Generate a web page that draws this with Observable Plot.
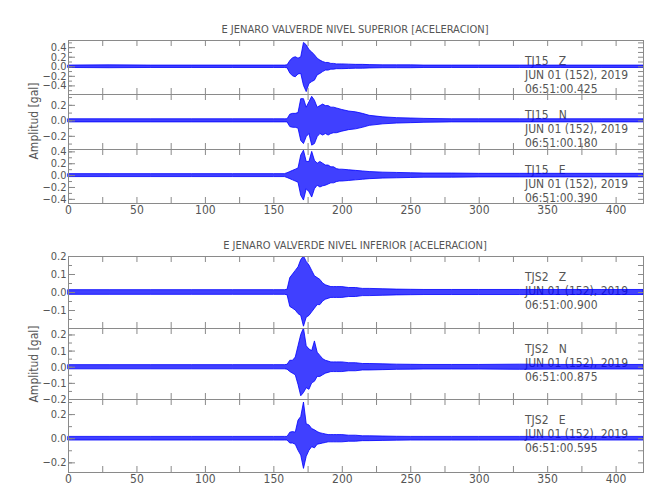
<!DOCTYPE html>
<html><head><meta charset="utf-8">
<script src="https://cdn.jsdelivr.net/npm/d3@7"></script>
<script src="https://cdn.jsdelivr.net/npm/@observablehq/plot@0.6"></script>
<style>
body{margin:0;background:#fff;}
#chart{position:relative;width:650px;height:500px;font-family:"DejaVu Sans Condensed","Liberation Sans Narrow","Liberation Sans",sans-serif;color:#555;}
.abs{position:absolute;white-space:nowrap;}
.title{font-size:11px;transform:translate(-50%,-50%);}
.ann{font-size:12px;line-height:14px;}
.ylab{font-size:12px;transform:translate(-50%,-50%) rotate(-90deg);}
svg{position:absolute;left:0;}
</style></head><body><div id="chart"></div>
<script>
// ---- data ----
const time = [0,30,60,90,120,150,158,160,162,164,166,168,170,172,174,176,178,180,182,184,186,188,190,192,194,196,198,200,205,210,215,220,230,240,250,260,280,300,330,360,390,420];

const supZUp = [0.025,0.03,0.025,0.025,0.025,0.025,0.025, 0.03,0.12,0.18,0.2,0.17,0.2,0.5,0.45,0.35,0.3,0.24,0.17,0.13,0.1,0.08,0.08,0.06,0.06,0.05,0.05,0.05, 0.045,0.04,0.04,0.035,0.03,0.03,0.03,0.025,0.025,0.025,0.025,0.025,0.025,0.025];
const supZLo = [-0.025,-0.03,-0.025,-0.025,-0.025,-0.025,-0.025, -0.03,-0.14,-0.2,-0.22,-0.16,-0.15,-0.4,-0.53,-0.36,-0.32,-0.29,-0.18,-0.15,-0.11,-0.08,-0.08,-0.06,-0.06,-0.05,-0.05,-0.05, -0.045,-0.04,-0.04,-0.035,-0.03,-0.03,-0.03,-0.025,-0.025,-0.025,-0.025,-0.025,-0.025,-0.025];

const supNUp = [0.02,0.02,0.02,0.02,0.02,0.02,0.02, 0.02,0.08,0.09,0.09,0.1,0.28,0.28,0.17,0.24,0.31,0.26,0.17,0.19,0.21,0.19,0.19,0.17,0.17,0.16,0.15,0.14, 0.12,0.11,0.09,0.065,0.045,0.035,0.03,0.025,0.02,0.02,0.02,0.02,0.02,0.02];
const supNLo = [-0.02,-0.02,-0.02,-0.02,-0.02,-0.02,-0.02, -0.02,-0.08,-0.09,-0.09,-0.1,-0.26,-0.3,-0.21,-0.17,-0.32,-0.3,-0.21,-0.17,-0.19,-0.17,-0.19,-0.17,-0.16,-0.16,-0.15,-0.14, -0.12,-0.11,-0.09,-0.065,-0.045,-0.035,-0.03,-0.025,-0.02,-0.02,-0.02,-0.02,-0.02,-0.02];

const supEUp = [0.025,0.025,0.025,0.025,0.025,0.025,0.025, 0.04,0.06,0.08,0.1,0.12,0.34,0.42,0.23,0.23,0.4,0.25,0.2,0.23,0.2,0.17,0.17,0.14,0.14,0.11,0.1,0.1, 0.09,0.08,0.07,0.06,0.05,0.045,0.04,0.035,0.035,0.03,0.03,0.03,0.03,0.03];
const supELo = [-0.025,-0.025,-0.025,-0.025,-0.025,-0.025,-0.025, -0.04,-0.06,-0.08,-0.1,-0.12,-0.34,-0.42,-0.23,-0.28,-0.37,-0.23,-0.17,-0.2,-0.18,-0.17,-0.15,-0.13,-0.13,-0.11,-0.1,-0.1, -0.09,-0.08,-0.07,-0.06,-0.05,-0.045,-0.04,-0.035,-0.035,-0.03,-0.03,-0.03,-0.03,-0.03];

const infZUp = [0.013,0.013,0.013,0.013,0.013,0.013,0.013, 0.015,0.08,0.1,0.12,0.14,0.18,0.2,0.17,0.15,0.12,0.09,0.08,0.07,0.05,0.04,0.035,0.03,0.03,0.03,0.03,0.03, 0.025,0.025,0.02,0.02,0.018,0.016,0.015,0.014,0.014,0.014,0.014,0.014,0.014,0.014];
const infZLo = [-0.013,-0.013,-0.013,-0.013,-0.013,-0.013,-0.013, -0.015,-0.08,-0.09,-0.1,-0.12,-0.13,-0.19,-0.14,-0.13,-0.11,-0.09,-0.07,-0.07,-0.05,-0.04,-0.035,-0.03,-0.03,-0.03,-0.03,-0.03, -0.025,-0.025,-0.02,-0.02,-0.018,-0.016,-0.015,-0.014,-0.014,-0.014,-0.014,-0.014,-0.014,-0.014];

const infNUp = [0.013,0.013,0.013,0.013,0.013,0.013,0.013, 0.015,0.04,0.04,0.06,0.13,0.2,0.24,0.13,0.11,0.1,0.16,0.09,0.07,0.05,0.04,0.035,0.03,0.03,0.03,0.03,0.03, 0.025,0.025,0.02,0.02,0.018,0.016,0.015,0.014,0.014,0.014,0.016,0.014,0.014,0.014];
const infNLo = [-0.013,-0.013,-0.013,-0.013,-0.013,-0.013,-0.013, -0.015,-0.03,-0.04,-0.05,-0.11,-0.18,-0.16,-0.13,-0.14,-0.1,-0.09,-0.06,-0.06,-0.05,-0.04,-0.035,-0.03,-0.03,-0.03,-0.03,-0.03, -0.025,-0.025,-0.02,-0.02,-0.018,-0.016,-0.015,-0.014,-0.014,-0.014,-0.016,-0.014,-0.014,-0.014];

const infEUp = [0.015,0.015,0.015,0.015,0.015,0.015,0.015, 0.015,0.05,0.055,0.05,0.15,0.18,0.3,0.12,0.11,0.08,0.07,0.055,0.045,0.04,0.035,0.03,0.03,0.03,0.03,0.03,0.03, 0.025,0.025,0.02,0.02,0.018,0.016,0.015,0.015,0.015,0.015,0.015,0.015,0.015,0.015];
const infELo = [-0.015,-0.015,-0.015,-0.015,-0.015,-0.015,-0.015, -0.015,-0.04,-0.04,-0.05,-0.1,-0.14,-0.25,-0.15,-0.1,-0.07,-0.08,-0.05,-0.045,-0.04,-0.035,-0.03,-0.03,-0.03,-0.03,-0.03,-0.03, -0.025,-0.025,-0.02,-0.02,-0.018,-0.016,-0.015,-0.015,-0.015,-0.015,-0.015,-0.015,-0.015,-0.015];

const groupTitles = ["E JENARO VALVERDE NIVEL SUPERIOR [ACELERACION]", "E JENARO VALVERDE NIVEL INFERIOR [ACELERACION]"];
const stations = ["TJ15","TJ15","TJ15","TJS2","TJS2","TJS2"];
const components = ["Z","N","E","Z","N","E"];
const dateLabel = "JUN 01 (152), 2019";
const startTimes = ["06:51:00.425","06:51:00.180","06:51:00.390","06:51:00.900","06:51:00.875","06:51:00.595"];
const yTitle = "Amplitud [gal]";
const xTickLabels = [0,50,100,150,200,250,300,350,400];
const xTicks = [0,25,50,75,100,125,150,175,200,225,250,275,300,325,350,375,400];
const yTickLabels = [[-0.4,-0.2,0,0.2,0.4],[-0.2,0,0.2],[-0.4,-0.2,0,0.2,0.4],[-0.1,0,0.1,0.2],[-0.2,-0.1,0,0.1,0.2],[-0.2,0,0.2]];
const yMinorSteps = [0.1,0.1,0.1,0.05,0.05,0.1];
const yDomains = [[-0.58,0.55],[-0.37,0.34],[-0.47,0.44],[-0.2,0.2],[-0.2,0.24],[-0.28,0.325]];

const ups = [supZUp,supNUp,supEUp,infZUp,infNUp,infEUp];
const los = [supZLo,supNLo,supELo,infZLo,infNLo,infELo];

// ---- layout ----
const W = 650, ML = 68, MR = 7, IW = W - ML - MR;
const panelTop = [40,94,149,256,328,399];
const panelH = [54,55,54,72,71,73];
const isLast = [false,false,true,false,false,true];
const grey = "#8a8a8a";
const font = '"DejaVu Sans Condensed","Liberation Sans Narrow","Liberation Sans",sans-serif';

const chart = document.getElementById("chart");
function addDiv(cls, text, left, top){
  const d = document.createElement("div");
  d.className = "abs " + cls; d.textContent = text;
  d.style.left = left + "px"; d.style.top = top + "px";
  chart.appendChild(d); return d;
}
addDiv("title", groupTitles[0], 355, 29);
addDiv("title", groupTitles[1], 355, 245);
addDiv("ylab", yTitle, 34, 121);
addDiv("ylab", yTitle, 34, 364);
for (let i = 0; i < 6; i++) {
  const d = addDiv("ann", "", 525, panelTop[i] + 14);
  [stations[i] + "\u00a0\u00a0\u00a0" + components[i], dateLabel, startTimes[i]].forEach(s => {
    const l = document.createElement("div"); l.textContent = s; d.appendChild(l);
  });
}

for (let i = 0; i < 6; i++) {
  const rows = time.map((t, j) => ({t, hi: ups[i][j], lo: los[i][j]}));
  const [a, b] = yDomains[i];
  const step = yMinorSteps[i];
  const minor = d3.range(Math.ceil(a / step), Math.floor(b / step) + 1).map(k => +(k * step).toFixed(3));
  const h = panelH[i], last = isLast[i];
  const svg = Plot.plot({
    width: W, height: h + (last ? 20 : 0),
    marginLeft: ML, marginRight: MR, marginTop: 0, marginBottom: last ? 20 : 0,
    style: {overflow: "visible", background: "transparent", fontFamily: font, fontSize: "11px", color: "#555"},
    x: {domain: [0, 420], axis: last ? undefined : null},
    y: {domain: [a, b]},
    marks: [
      Plot.areaY(rows, {x: "t", y1: "lo", y2: "hi", fill: "#0000ff", fillOpacity: 0.75, stroke: "#0000ff", strokeWidth: 0.8}),
      Plot.frame({stroke: grey}),
      Plot.tickX(xTicks, {x: d => d, stroke: grey, insetBottom: h - 6}),
      Plot.tickX(xTicks, {x: d => d, stroke: grey, insetTop: h - 6}),
      Plot.tickY(yTickLabels[i], {y: d => d, stroke: grey, insetRight: IW - 7}),
      Plot.tickY(minor, {y: d => d, stroke: grey, insetRight: IW - 4}),
      Plot.tickY(minor, {y: d => d, stroke: grey, insetLeft: IW - 5}),
      Plot.axisY(yTickLabels[i], {tickSize: 0, tickPadding: 2, tickFormat: d3.format(".1f"), label: null}),
      last ? Plot.axisX(xTickLabels, {tickSize: 0, tickPadding: 2, label: null, fontSize: 12}) : null
    ]
  });
  svg.style.top = panelTop[i] + "px";
  chart.appendChild(svg);
}
</script>
</body></html>
